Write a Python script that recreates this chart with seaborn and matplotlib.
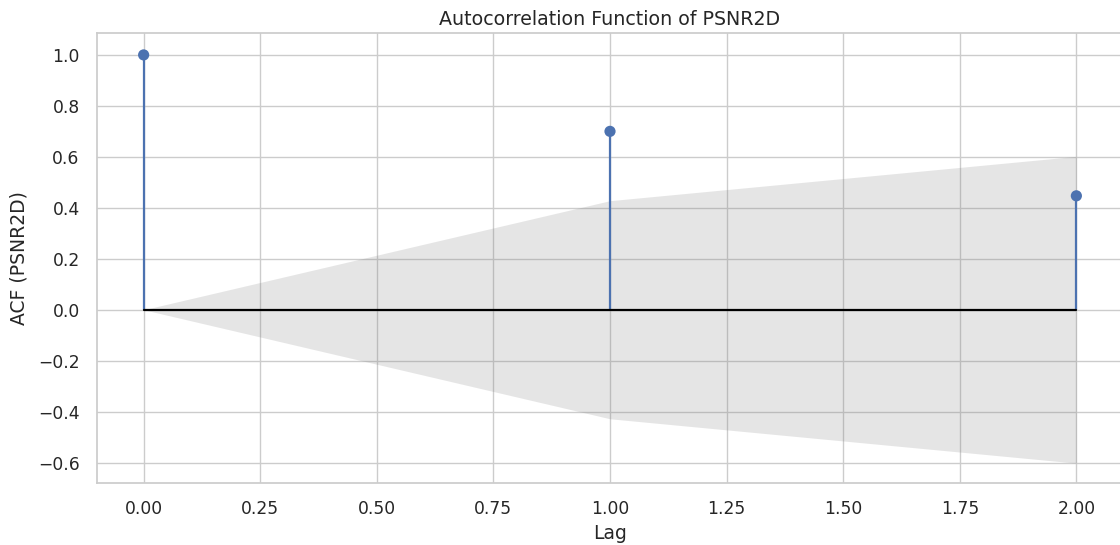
import matplotlib
matplotlib.use("Agg")
import matplotlib.pyplot as plt
import seaborn as sns
import numpy as np
import pandas as pd

# Autocorrelation values of PSNR2D by lag
lags = [0, 1, 2]
acf_values = [1.0, 0.70, 0.447]
# Half-width of the 95% confidence band around zero
conf_halfwidth = [0.0, 0.428, 0.602]

sns.set_theme(style="whitegrid")
plt.rcParams["font.family"] = ["DejaVu Sans"]

fig = plt.figure(figsize=(11.2, 5.45), dpi=100)
ax = fig.add_axes([97 / 1120, 1 - 483 / 545, (1123 - 97) / 1120, (483 - 33) / 545])

df = pd.DataFrame({"lag": lags, "acf": acf_values})
lo = -np.array(conf_halfwidth)
hi = np.array(conf_halfwidth)

ax.fill_between(lags, lo, hi, color="gray", alpha=0.2, linewidth=0, zorder=2)
ax.vlines(df["lag"], 0, df["acf"], color="#4C72B0", linewidth=1.6, zorder=3)
ax.plot([min(lags), max(lags)], [0, 0], color="black", linewidth=1.6, zorder=3)
sns.scatterplot(data=df, x="lag", y="acf", ax=ax, color="#4C72B0", s=65,
                edgecolor="none", zorder=4)

ax.set_xlim(-0.1, 2.1)
ax.set_ylim(-0.68, 1.086)
ax.set_xticks(np.arange(0, 2.01, 0.25))
ax.set_xticklabels([f"{v:.2f}" for v in np.arange(0, 2.01, 0.25)])
ax.set_yticks(np.arange(-0.6, 1.01, 0.2))
ax.set_yticklabels([f"{v:.1f}".replace("-", "\u2212") if abs(v) > 1e-9 else "0.0"
                    for v in np.arange(-0.6, 1.01, 0.2)])
ax.tick_params(axis="x", labelsize=12.3, pad=6.5)
ax.tick_params(axis="y", labelsize=12.3, pad=6.5)
ax.set_title("Autocorrelation Function of PSNR2D", fontsize=13.7)
ax.set_xlabel("Lag", fontsize=13.5, labelpad=4)
ax.set_ylabel("ACF (PSNR2D)", fontsize=13.5, labelpad=7)

fig.savefig("out.png", dpi=100)
